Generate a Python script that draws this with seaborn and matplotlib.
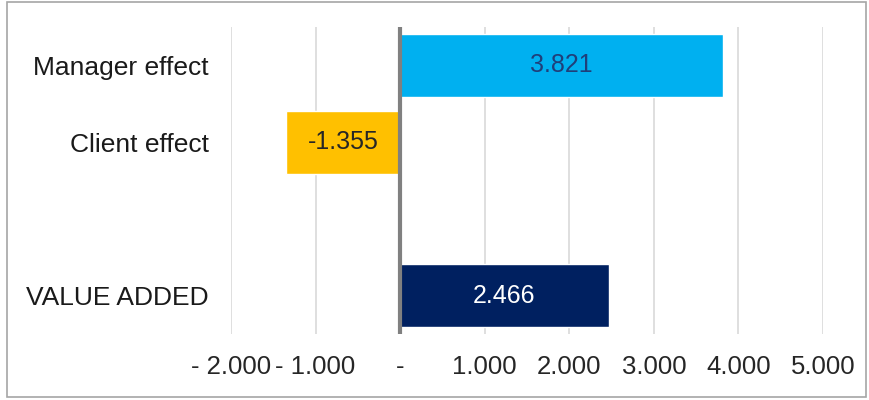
import numpy as np
import pandas as pd
import matplotlib
matplotlib.use("Agg")
import matplotlib.pyplot as plt
from matplotlib.patches import Rectangle
import seaborn as sns

# Contribution breakdown
categories = ["Manager effect", "Client effect", " ", "VALUE ADDED"]
values = [3821, -1355, np.nan, 2466]
bar_colors = ["#00B0F0", "#FFC000", "#FFFFFF", "#002060"]
label_colors = ["#1F3F7A", "#262626", "#FFFFFF", "#FFFFFF"]
tick_values = [-2000, -1000, 0, 1000, 2000, 3000, 4000, 5000]
tick_labels = ["- 2.000", "- 1.000", "-", "1.000", "2.000", "3.000", "4.000", "5.000"]

sns.set_theme(style="white")
plt.rcParams["font.family"] = ["Liberation Sans", "DejaVu Sans"]

df = pd.DataFrame({"category": categories, "value": values})

fig = plt.figure(figsize=(8.69, 4.0), dpi=100)
ax = fig.add_axes([231 / 869, 1 - 334 / 400, (823 - 231) / 869, (334 - 27) / 400])

sns.barplot(
    data=df, x="value", y="category", hue="category", order=categories,
    palette=dict(zip(categories, bar_colors)), legend=False,
    orient="h", width=0.82, ax=ax, saturation=1, errorbar=None,
)

ax.set_xlim(-2000, 5000)
ax.set_xticks(tick_values)
ax.set_xticklabels(tick_labels, fontsize=18.5, color="#262626")
ax.tick_params(axis="x", length=0, pad=15)
ax.tick_params(axis="y", length=0, pad=16, labelsize=19, labelcolor="#1A1A1A")
ax.set_xlabel("")
ax.set_ylabel("")

ax.grid(axis="x", color="#D9D9D9", linewidth=1.2)
ax.grid(axis="y", visible=False)
ax.set_axisbelow(True)
for s in ax.spines.values():
    s.set_visible(False)

ax.axvline(0, color="#808080", linewidth=3, zorder=3)

# Value labels in the bar centres
for container in ax.containers:
    for rect in container:
        w = rect.get_width()
        if np.isnan(w) or w == 0:
            continue
        y = rect.get_y() + rect.get_height() / 2
        idx = int(round(y))
        txt = f"{w:,.0f}".replace(",", ".")
        ax.text(rect.get_x() + w / 2, y, txt, ha="center", va="center",
                fontsize=18, color=label_colors[idx], zorder=4)

# Chart frame
fig.patches.append(Rectangle((7 / 869, 3 / 400), 859 / 869, 395 / 400,
                             transform=fig.transFigure, fill=False,
                             edgecolor="#A6A6A6", linewidth=1.2))

fig.savefig("out.png", dpi=100)
